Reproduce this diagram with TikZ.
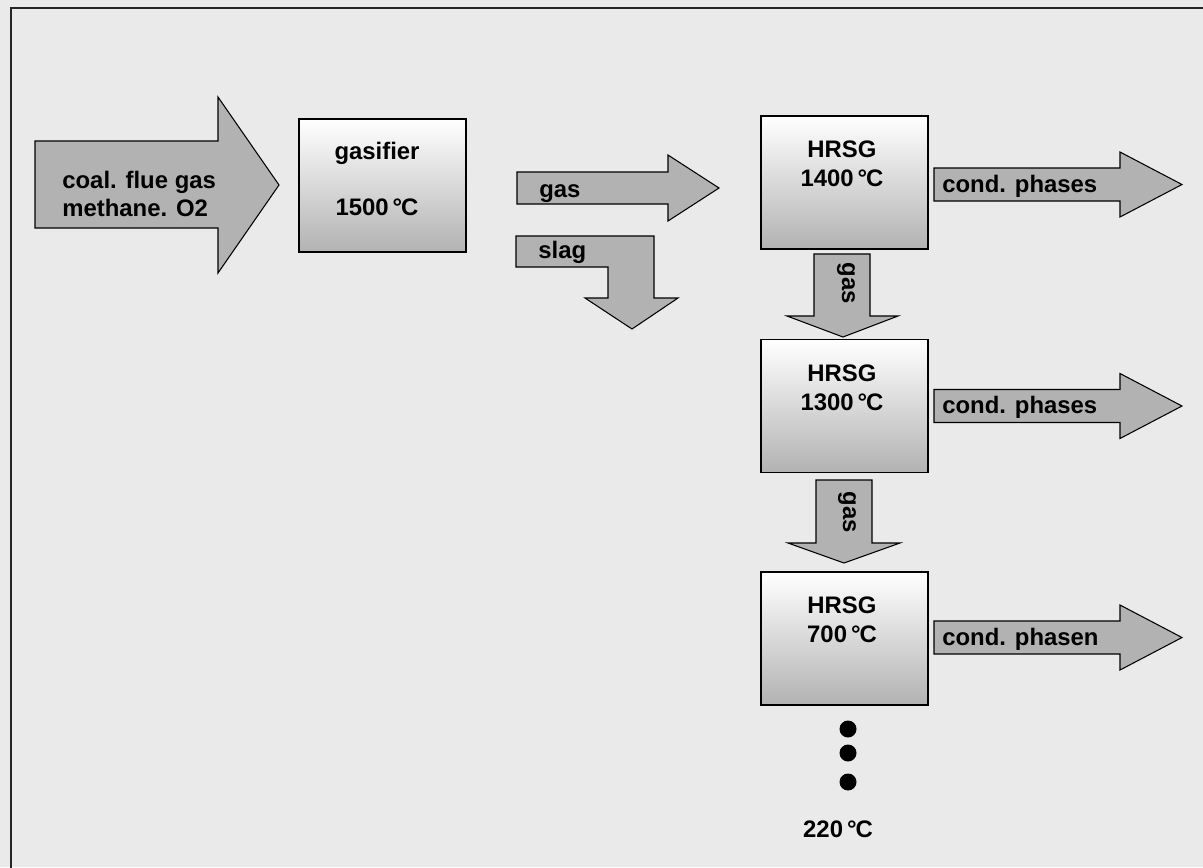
\documentclass[tikz,border=0pt]{standalone}
\usepackage{fontspec}
\setmainfont{Liberation Sans}
\usetikzlibrary{positioning}
\definecolor{bggray}{HTML}{EAEAEA}
\definecolor{arrgray}{HTML}{B2B2B2}
\newcommand{\dC}{\,°\kern-0.6pt C}

\begin{document}
\begin{tikzpicture}[
    x=0.02cm, y=-0.02cm,
    barrow/.style={draw=black, line width=0.6pt, fill=arrgray, line join=miter},
    unit/.style={draw=black, line width=0.9pt, top color=white, bottom color=arrgray,
                 minimum width=3.34cm, minimum height=2.66cm, inner sep=0pt},
    lbl/.style={font=\fontsize{13.6}{16}\selectfont\bfseries, inner sep=0pt},
]
% ============================================================
% background and frame
% ============================================================
\useasboundingbox (0,0) rectangle (1203,867);
\clip (0,0) rectangle (1203,867);
\fill[bggray] (0,0) rectangle (1203,867);
\draw[line width=1.2pt, black!85] (11,900) -- (11,8) -- (1250,8);
% ============================================================
% feed arrow + gasifier
% ============================================================
\draw[barrow] (35,141) -- (218,141) -- (218,97) -- (279,185) -- (218,273)
    -- (218,228) -- (35,228) -- cycle;
\node[lbl, anchor=base west] (feed1) at (62,188) {coal. flue gas};
\node[lbl, anchor=base west] (feed2) at (62,216) {methane. O2};
%
\node[unit] (gasifier) at (382.5,185.5) {};
\node[lbl, anchor=base] (gasname) at (377,159) {gasifier};
\node[lbl, anchor=base] (gastemp) at (377,215) {1500\dC};
% --- gas and slag out of gasifier ---
\draw[barrow] (517,172) -- (668,172) -- (668,155) -- (719,188) -- (668,221)
    -- (668,204) -- (517,204) -- cycle;
\node[lbl, anchor=base west] (gasout) at (539,197) {gas};
\draw[barrow] (516,236) -- (654,236) -- (654,298) -- (678,298) -- (632,329)
    -- (585,298) -- (608,298) -- (608,267) -- (516,267) -- cycle;
\node[lbl, anchor=base west] (slag) at (538,258) {slag};
% ============================================================
% HRSG column
% ============================================================
\node[unit] (hrsg1) at (844.5,182.5) {};
\node[unit] (hrsg2) at (844.5,406) {};
\node[unit] (hrsg3) at (844.5,638.5) {};
\foreach \n/\y/\t in {1/157/1400, 2/381/1300, 3/613/700} {
    \node[lbl, anchor=base] (name\n) at (842,\y) {HRSG};
    \node[lbl, anchor=base] (temp\n) at (842,\y+29) {\t\dC};
}
% --- condensed phases to the right ---
\foreach \n/\c/\txt in {1/184.5/cond. phases, 2/406/cond. phases, 3/637.5/cond. phasen} {
    \draw[barrow] (934,\c-16.5) -- (1120,\c-16.5) -- (1120,\c-32.5) -- (1182,\c)
        -- (1120,\c+32.5) -- (1120,\c+16.5) -- (934,\c+16.5) -- cycle;
    \node[lbl, anchor=base west] (cond\n) at (942,\c+7.5) {\txt};
}
% --- gas between the HRSG units ---
\draw[barrow] (814,254) -- (870,254) -- (870,316) -- (898,316) -- (843,337)
    -- (787,316) -- (814,316) -- cycle;
\node[lbl, rotate=-90] (gas12) at (846,283) {gas};
\draw[barrow] (816,480) -- (872,480) -- (872,543) -- (900,543) -- (844,563)
    -- (788,543) -- (816,543) -- cycle;
\node[lbl, rotate=-90] (gas23) at (847,512) {gas};
% --- further stages ---
\foreach \n/\y in {1/729, 2/753, 3/782}
    \node[circle, fill=black, inner sep=0pt, minimum size=0.34cm] (dot\n) at (848,\y) {};
\node[lbl, anchor=base] (exit) at (838,837) {220\dC};
\end{tikzpicture}
\end{document}
